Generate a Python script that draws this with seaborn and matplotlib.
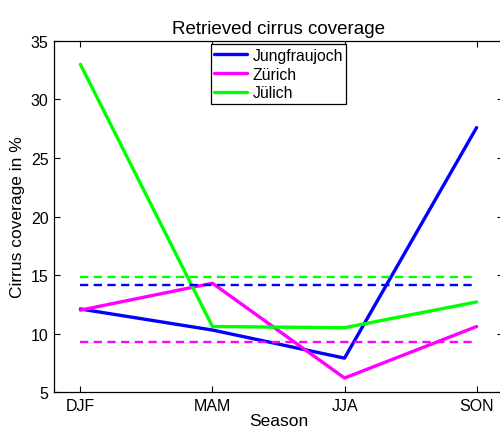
import pandas as pd
import matplotlib
matplotlib.use("Agg")
import matplotlib.pyplot as plt
import seaborn as sns

# seasonal cirrus coverage (%)
seasons = ["DJF", "MAM", "JJA", "SON"]
stations = ["Jungfraujoch", "Zürich", "Jülich"]
jungfraujoch = [12.1, 10.3, 7.9, 27.6]
zurich = [12.0, 14.3, 6.2, 10.6]
juelich = [33.0, 10.6, 10.5, 12.7]
# horizontal reference levels (dashed)
reference_levels = [14.15, 9.25, 14.8]

colors = ["#0000ff", "#ff00ff", "#00ff00"]


def build_frame():
    """Long-form table for seaborn"""
    rows = []
    for name, vals in zip(stations, [jungfraujoch, zurich, juelich]):
        for i, (s, v) in enumerate(zip(seasons, vals)):
            rows.append({"station": name, "pos": i, "season": s, "coverage": v})
    return pd.DataFrame(rows)


def main():
    sns.set_style("ticks")
    plt.rcParams["font.family"] = ["Liberation Sans", "DejaVu Sans"]
    plt.rcParams["text.color"] = "black"
    plt.rcParams["axes.labelcolor"] = "black"

    df = build_frame()
    fig = plt.figure(figsize=(5.0, 4.31), dpi=100)
    ax = fig.add_axes([0.108, 0.088, 0.898, 0.8146])

    sns.lineplot(data=df, x="pos", y="coverage", hue="station", hue_order=stations,
                 palette=colors, linewidth=2.4, ax=ax, legend=True)
    for lvl, c in zip(reference_levels, colors):
        ax.hlines(lvl, 0, len(seasons) - 1, colors=c, linestyles=(0, (3.5, 2.3)), linewidth=1.7)

    ax.set_xlim(-0.2, 3.2)
    ax.set_ylim(5, 35)
    ax.set_xticks(range(len(seasons)))
    ax.set_xticklabels(seasons)
    ax.set_yticks(range(5, 36, 5))
    ax.tick_params(direction="in", length=4, width=0.8, labelsize=11.5, colors="black",
                   top=True, right=True, pad=4)
    for sp in ax.spines.values():
        sp.set_visible(True)
        sp.set_linewidth(0.9)
        sp.set_color("black")

    ax.set_xlabel("Season", fontsize=12.5, labelpad=0)
    ax.set_ylabel("Cirrus coverage in %", fontsize=12.5, labelpad=4)
    ax.set_title("Retrieved cirrus coverage", fontsize=13.5, pad=6, color="black")

    leg = ax.legend(loc="upper left", bbox_to_anchor=(0.35, 0.99), fontsize=11.3,
                    frameon=True, fancybox=False, edgecolor="black", framealpha=1,
                    handlelength=2.1, handletextpad=0.35, borderpad=0.2,
                    labelspacing=0.25, borderaxespad=0)
    leg.get_frame().set_linewidth(0.9)

    fig.savefig("out.png", dpi=100)
    plt.close(fig)


if __name__ == "__main__":
    main()
